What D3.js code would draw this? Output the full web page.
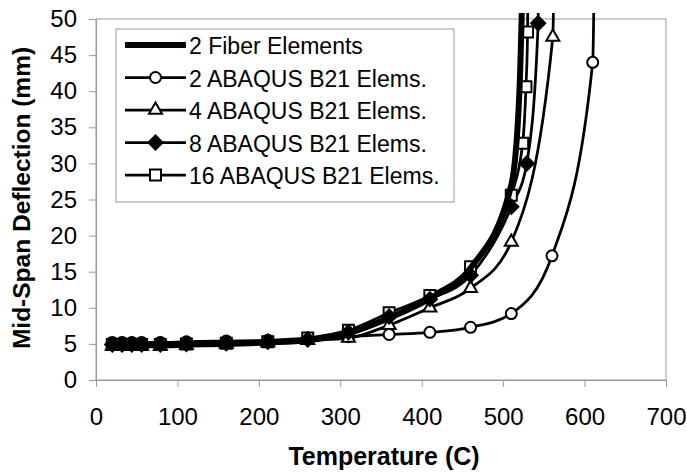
<!DOCTYPE html>
<html>
<head>
<meta charset="utf-8">
<script src="https://cdn.jsdelivr.net/npm/d3@7"></script>
<style>
  body { margin: 0; background: #fff; }
  text { font-family: Arial, "Liberation Sans", sans-serif; }
</style>
</head>
<body>
<script>
const width = 687;
const height = 473;
const margin = { top: 19, right: 21, bottom: 93, left: 96 };

const xTicks = [0, 100, 200, 300, 400, 500, 600, 700];
const yTicks = [0, 5, 10, 15, 20, 25, 30, 35, 40, 45, 50];

const lowT = [20, 32, 44, 56, 79, 111, 160, 211, 260, 310, 360, 410, 460, 510];

const fiberT = lowT.concat([520, 524]);
const fiberD = [4.8, 4.8, 4.8, 4.8, 4.8, 4.9, 5.0, 5.2, 5.5, 6.5, 8.6, 11.3, 15.5, 27.0, 40, 56];

const abaqus2T = lowT.concat([560, 610, 613]);
const abaqus2D = [5.2, 5.2, 5.2, 5.2, 5.2, 5.3, 5.4, 5.5, 5.8, 6.0, 6.3, 6.6, 7.3, 9.2, 17.2, 44.0, 70];

const abaqus4T = lowT.concat([561, 563.5]);
const abaqus4D = [4.7, 4.7, 4.7, 4.7, 4.7, 4.8, 5.0, 5.2, 5.5, 5.8, 7.6, 10.0, 12.7, 19.1, 47.5, 70];

const abaqus8T = lowT.concat([529, 543, 544]);
const abaqus8D = [4.9, 4.9, 4.9, 4.9, 4.9, 5.0, 5.1, 5.3, 5.6, 6.6, 8.8, 11.2, 14.5, 24.0, 30.0, 49.4, 70];

const abaqus16T = lowT.concat([524, 528, 530, 531.5]);
const abaqus16D = [4.9, 4.9, 4.9, 4.9, 4.9, 5.0, 5.1, 5.3, 5.8, 6.9, 9.3, 11.7, 15.7, 25.6, 32.8, 40.6, 48.2, 70];

const series = [
  { name: '2 Fiber Elements', t: fiberT, d: fiberD, marker: null, width: 6 },
  { name: '2 ABAQUS B21 Elems.', t: abaqus2T, d: abaqus2D, marker: 'circle', width: 2.75 },
  { name: '4 ABAQUS B21 Elems.', t: abaqus4T, d: abaqus4D, marker: 'triangle', width: 2.75 },
  { name: '8 ABAQUS B21 Elems.', t: abaqus8T, d: abaqus8D, marker: 'diamond', width: 2.75 },
  { name: '16 ABAQUS B21 Elems.', t: abaqus16T, d: abaqus16D, marker: 'square', width: 2.75 }
];

// marker drawing order (filled diamonds end up on top)
const markerOrder = ['circle', 'square', 'triangle', 'diamond'];

const x = d3.scaleLinear()
  .domain([0, 700])
  .range([margin.left, width - margin.right]);

const y = d3.scaleLinear()
  .domain([0, 50])
  .range([height - margin.bottom, margin.top]);

const svg = d3.select('body')
  .append('svg')
  .attr('width', width)
  .attr('height', height);

// plot area border
svg.append('rect')
  .attr('x', x(0))
  .attr('y', y(50))
  .attr('width', x(700) - x(0))
  .attr('height', y(0) - y(50))
  .attr('fill', 'none')
  .attr('stroke', '#999');

const xAxis = g => g
  .attr('transform', `translate(0,${y(0)})`)
  .call(d3.axisBottom(x).tickValues(xTicks).tickSize(7).tickPadding(21))
  .call(g => g.selectAll('path, line').attr('stroke', '#999'))
  .call(g => g.selectAll('text').attr('font-size', 24).attr('fill', '#000'));

const yAxis = g => g
  .attr('transform', `translate(${x(0)},0)`)
  .call(d3.axisLeft(y).tickValues(yTicks).tickSize(7).tickPadding(12))
  .call(g => g.selectAll('path, line').attr('stroke', '#999'))
  .call(g => g.selectAll('text').attr('font-size', 24).attr('fill', '#000'));

svg.append('g').call(xAxis);
svg.append('g').call(yAxis);

svg.append('text')
  .attr('x', 384)
  .attr('y', 465)
  .attr('text-anchor', 'middle')
  .attr('font-size', 25)
  .attr('font-weight', 'bold')
  .text('Temperature (C)');

svg.append('text')
  .attr('transform', 'translate(30,198) rotate(-90)')
  .attr('text-anchor', 'middle')
  .attr('font-size', 24.5)
  .attr('font-weight', 'bold')
  .text('Mid-Span Deflection (mm)');

svg.append('clipPath')
  .attr('id', 'clip')
  .append('rect')
  .attr('x', x(0))
  .attr('y', y(50) - 6)
  .attr('width', x(700) - x(0))
  .attr('height', y(0) - y(50) + 6);

const line = d3.line()
  .curve(d3.curveMonotoneX)
  .x(d => x(d[0]))
  .y(d => y(d[1]));

const symbolPath = m => {
  if (m === 'circle') return d3.symbol(d3.symbolCircle, 95)();
  if (m === 'triangle') return d3.symbol(d3.symbolTriangle, 73)();
  if (m === 'diamond') return d3.symbol(d3.symbolSquare, 100)();
  if (m === 'square') return d3.symbol(d3.symbolSquare, 121)();
  return null;
};

const drawMarkers = (g, m, pts) => {
  g.selectAll('path.mk')
    .data(pts)
    .join('path')
    .attr('class', 'mk')
    .attr('d', symbolPath(m))
    .attr('transform', d => `translate(${d[0]},${d[1]})` + (m === 'diamond' ? ' rotate(45)' : ''))
    .attr('fill', m === 'diamond' ? '#000' : '#fff')
    .attr('stroke', '#000')
    .attr('stroke-width', 2);
};

const plot = svg.append('g').attr('clip-path', 'url(#clip)');
const toPts = s => s.t.map((t, i) => [t, s.d[i]]);

const drawLine = s => plot.append('path')
  .datum(toPts(s))
  .attr('fill', 'none')
  .attr('stroke', '#000')
  .attr('stroke-width', s.width)
  .attr('stroke-linejoin', 'round')
  .attr('d', line);

series.filter(s => s.marker).forEach(drawLine);

markerOrder.forEach(m => {
  const s = series.find(d => d.marker === m);
  drawMarkers(plot.append('g'), m, toPts(s).map(p => [x(p[0]), y(p[1])]));
});

series.filter(s => !s.marker).forEach(drawLine);

// legend
const legend = svg.append('g');
legend.append('rect')
  .attr('x', 116)
  .attr('y', 29)
  .attr('width', 338)
  .attr('height', 173)
  .attr('fill', '#fff')
  .attr('stroke', '#999');

series.forEach((s, i) => {
  const ly = 45 + i * 32.5;
  legend.append('line')
    .attr('x1', 125).attr('x2', 186)
    .attr('y1', ly).attr('y2', ly)
    .attr('stroke', '#000')
    .attr('stroke-width', s.width);
  if (s.marker) drawMarkers(legend.append('g'), s.marker, [[155.5, ly]]);
  legend.append('text')
    .attr('x', 189)
    .attr('y', ly + 9)
    .attr('font-size', 23)
    .text(s.name);
});
</script>
</body>
</html>
